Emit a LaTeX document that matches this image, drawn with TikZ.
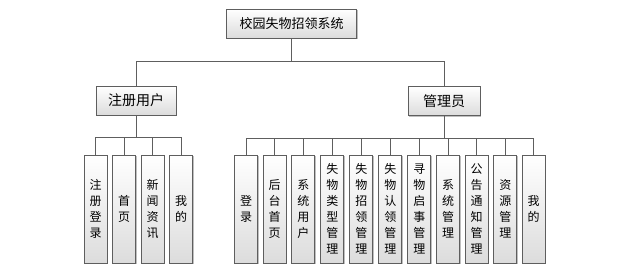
\documentclass[tikz,border=0pt]{standalone}
\usepackage{fontspec}
\newfontfamily\cjk{Noto Sans CJK SC}
\usetikzlibrary{shadows}
\definecolor{edge}{HTML}{5E5E5E}
\definecolor{boxbot}{HTML}{DCDCDC}
\tikzset{
  box/.style={draw=edge, line width=0.9pt, top color=white, bottom color=boxbot,
    inner sep=0pt, align=center, text=black,
    drop shadow={shadow xshift=1.2pt, shadow yshift=-1.2pt, opacity=0.25, fill=black}},
  topbox/.style={box, minimum width=130pt, minimum height=29pt, font=\cjk\fontsize{13}{15}\selectfont},
  midbox/.style={box, minimum height=29pt, font=\cjk\fontsize{14}{16}\selectfont},
  leaf/.style={box, minimum width=23pt, minimum height=108pt, font=\cjk\fontsize{12}{16}\selectfont},
  conn/.style={draw=edge, line width=0.9pt}
}
\begin{document}
\begin{tikzpicture}[x=1pt, y=-1pt]
\useasboundingbox (0,0) rectangle (625,277);
\node[topbox] (root) at (291.7,23.5) {校园失物招领系统};
\node[midbox, minimum width=80pt] (user) at (136,100.5) {注册用户};
\node[midbox, minimum width=72pt] (admin) at (444,101) {管理员};
\coordinate (busT) at (291.7,61.7);
\draw[conn] (root.south) -- (busT) -| (user.north);
\draw[conn] (busT) -| (admin.north);
% user leaves
\node[leaf] (u1) at (95.5,209) {注\\册\\登\\录};
\node[leaf] (u2) at (124,209) {首\\页};
\node[leaf] (u3) at (152.5,209) {新\\闻\\资\\讯};
\node[leaf] (u4) at (181,209) {我\\的};
\foreach \n in {u1,u2,u3,u4} \draw[conn] (user.south) -- ++(0,22) -| (\n.north);
% admin leaves
\node[leaf] (a1) at (246,209) {登\\录};
\node[leaf] (a2) at (274.7,209) {后\\台\\首\\页};
\node[leaf] (a3) at (303.3,209) {系\\统\\用\\户};
\node[leaf] (a4) at (332.3,209) {失\\物\\类\\型\\管\\理};
\node[leaf] (a5) at (361.3,209) {失\\物\\招\\领\\管\\理};
\node[leaf] (a6) at (390.3,209) {失\\物\\认\\领\\管\\理};
\node[leaf] (a7) at (419.3,209) {寻\\物\\启\\事\\管\\理};
\node[leaf] (a8) at (448,209) {系\\统\\管\\理};
\node[leaf] (a9) at (476.7,209) {公\\告\\通\\知\\管\\理};
\node[leaf] (a10) at (505.3,209) {资\\源\\管\\理};
\node[leaf] (a11) at (533.7,209) {我\\的};
\foreach \n in {a1,a2,a3,a4,a5,a6,a7,a8,a9,a10,a11} \draw[conn] (admin.south) -- ++(0,22) -| (\n.north);
\end{tikzpicture}
\end{document}
